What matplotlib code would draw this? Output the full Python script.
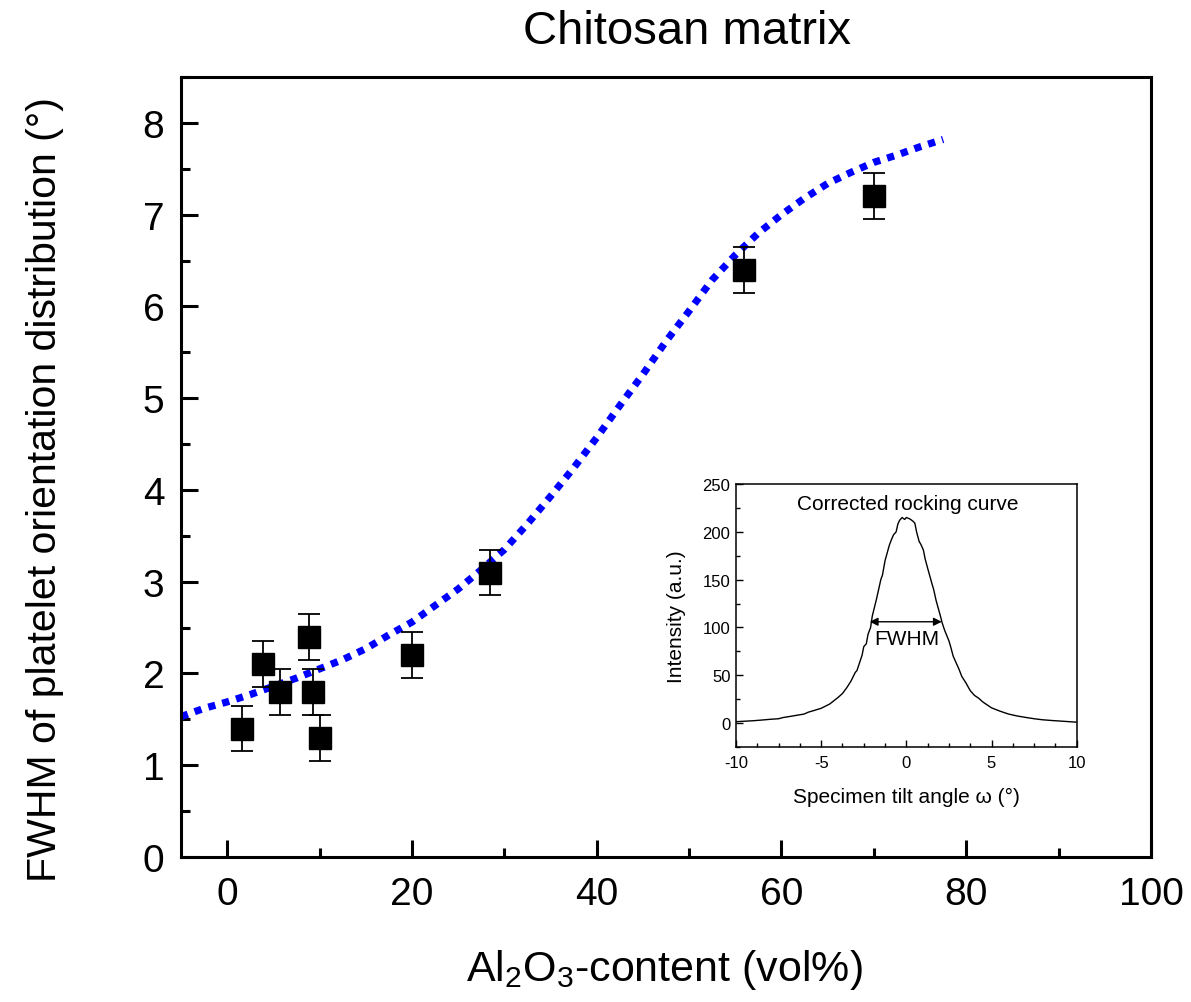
import matplotlib
matplotlib.use("Agg")
import matplotlib.pyplot as plt
from matplotlib.ticker import MultipleLocator

plt.rcParams["font.family"] = ["Liberation Sans", "DejaVu Sans"]
plt.rcParams["mathtext.fontset"] = "custom"
plt.rcParams["mathtext.rm"] = "Liberation Sans"
plt.rcParams["mathtext.it"] = "Liberation Sans:italic"
plt.rcParams["mathtext.bf"] = "Liberation Sans:bold"
plt.rcParams["axes.unicode_minus"] = False

# Measured FWHM of the platelet orientation distribution
al2o3_vol = [1.6, 3.9, 5.7, 8.9, 9.3, 10.0, 20.0, 28.5, 55.9, 70.0]
fwhm_deg = [1.4, 2.1, 1.8, 2.4, 1.8, 1.3, 2.2, 3.1, 6.4, 7.2]
fwhm_err = [0.25, 0.25, 0.25, 0.25, 0.25, 0.25, 0.25, 0.25, 0.25, 0.25]

# Sigmoidal trend line
trend_x = [-5, -2.5, 0, 2.5, 5, 7.5, 10, 12.5, 15, 17.5, 20, 22.5, 25, 27.5,
           30, 32.5, 35, 37.5, 40, 42.5, 45, 47.5, 50, 52.5, 55, 57.5, 60,
           62.5, 65, 67.5, 70, 72.5, 75, 77.5]
trend_y = [1.53, 1.62, 1.69, 1.77, 1.86, 1.95, 2.05, 2.15, 2.27, 2.42, 2.56,
           2.74, 2.92, 3.13, 3.35, 3.63, 3.93, 4.24, 4.57, 4.92, 5.26, 5.62,
           5.95, 6.29, 6.56, 6.80, 7.00, 7.18, 7.34, 7.46, 7.57, 7.65, 7.74,
           7.82]

# Corrected rocking curve (inset)
omega = [-10.0, -9.5, -9.0, -8.5, -8.0, -7.5, -7.25, -7.0, -6.5, -6.0, -5.75,
         -5.5, -5.0, -4.5, -4.0, -3.75, -3.5, -3.25, -3.0, -2.9, -2.75, -2.6,
         -2.5, -2.35, -2.25, -2.1, -2.0, -1.75, -1.5, -1.4, -1.25, -1.0,
         -0.85, -0.75, -0.6, -0.5, -0.4, -0.25, -0.1, 0.0, 0.15, 0.25, 0.4,
         0.5, 0.6, 0.75, 0.85, 1.0, 1.1, 1.25, 1.5, 1.6, 1.75, 2.0, 2.1,
         2.25, 2.5, 2.6, 2.75, 3.0, 3.1, 3.25, 3.5, 3.75, 4.0, 4.25, 4.5,
         5.0, 5.5, 6.0, 6.5, 7.0, 7.5, 8.0, 8.5, 9.0, 9.5, 10.0]
intensity = [1.5, 2.0, 2.5, 3.2, 4.0, 4.6, 5.8, 6.5, 8.0, 9.5, 11.5,
             12.8, 15.5, 20, 27, 31, 37, 44, 53, 55, 63, 71,
             80, 83, 93, 100, 112, 130, 150, 155, 170, 186,
             193, 197, 200, 208, 212, 215, 213, 215, 214, 213, 211,
             209, 200, 190, 187, 181, 172, 162, 146, 140, 128, 112, 105,
             97, 86, 80, 70, 60, 56, 49, 42, 34, 29, 26, 22,
             16, 12.5, 9.5, 7.5, 6.0, 4.6, 3.5, 2.8, 2.2, 1.6, 1.0]
fwhm_left, fwhm_right, fwhm_level = -2.15, 2.08, 106

fig = plt.figure(figsize=(11.91, 10.03), dpi=100)
ax = fig.add_axes([0.152, 0.1446, 0.8144, 0.7776])

ax.plot(trend_x, trend_y, color="#0000ff", lw=5.2,
        linestyle=(0, (1, 1)), dash_capstyle="butt", zorder=2)
ax.errorbar(al2o3_vol, fwhm_deg, yerr=fwhm_err, fmt="s", color="black",
            ms=16.5, ecolor="black", elinewidth=1.3, capsize=8,
            capthick=1.3, zorder=3)

ax.set_xlim(-5, 100)
ax.set_ylim(0, 8.5)
ax.xaxis.set_major_locator(MultipleLocator(20))
ax.xaxis.set_minor_locator(MultipleLocator(10))
ax.yaxis.set_major_locator(MultipleLocator(1))
ax.yaxis.set_minor_locator(MultipleLocator(0.5))
ax.tick_params(which="both", direction="in", top=False, right=False,
               width=2.2, labelsize=28)
ax.tick_params(which="major", length=12)
ax.tick_params(which="minor", length=6.5)
ax.tick_params(axis="x", pad=14)
ax.tick_params(axis="y", pad=12)
for sp in ax.spines.values():
    sp.set_linewidth(2.2)

ax.set_xlabel("Al$_2$O$_3$-content (vol%)", fontsize=31, va="center")
ax.xaxis.set_label_coords(0.498, -0.1436)
ax.set_ylabel("FWHM of platelet orientation distribution (°)", fontsize=29.5,
              va="center", ha="center")
ax.yaxis.set_label_coords(-0.140, 0.472)
ax.text(0.5216, 1.059, "Chitosan matrix", fontsize=34, ha="center",
        va="center", transform=ax.transAxes)

# Inset with the rocking curve
ins = fig.add_axes([0.618, 0.2542, 0.286, 0.2622])
ins.plot(omega, intensity, color="black", lw=1.0)
ins.annotate("", xy=(fwhm_left, fwhm_level), xytext=(fwhm_right, fwhm_level),
             arrowprops=dict(arrowstyle="<|-|>", color="black", lw=1.0,
                             mutation_scale=12, shrinkA=0, shrinkB=0))
ins.text(0.0, 88, "FWHM", fontsize=15, ha="center", va="center")
ins.text(0.1, 230, "Corrected rocking curve", fontsize=15, ha="center",
         va="center")
ins.set_xlim(-10, 10)
ins.set_ylim(-25, 250)
ins.xaxis.set_major_locator(MultipleLocator(5))
ins.xaxis.set_minor_locator(MultipleLocator(1.25))
ins.yaxis.set_major_locator(MultipleLocator(50))
ins.yaxis.set_minor_locator(MultipleLocator(25))
ins.tick_params(which="both", direction="in", top=False, right=False,
                width=1.0, labelsize=12)
ins.tick_params(which="major", length=5)
ins.tick_params(which="minor", length=3)
ins.tick_params(axis="x", pad=6)
ins.tick_params(axis="y", pad=4)
for sp in ins.spines.values():
    sp.set_linewidth(1.1)
ins.set_xlabel("Specimen tilt angle ω (°)", fontsize=15, labelpad=12)
ins.set_ylabel("Intensity (a.u.)", fontsize=15, labelpad=12)

fig.savefig("out.png", dpi=100)
